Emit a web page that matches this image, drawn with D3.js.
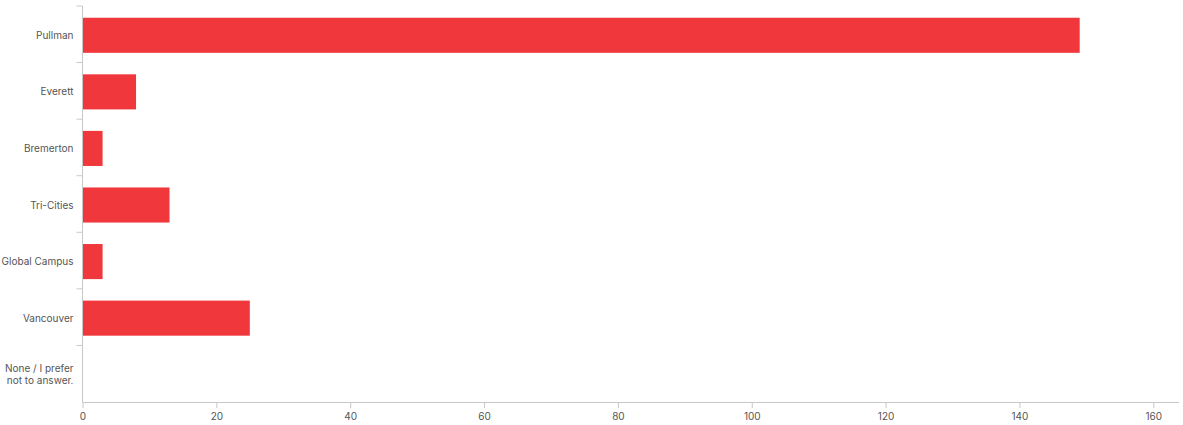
<!DOCTYPE html>
<html>
<head>
<meta charset="utf-8">
<script src="https://cdn.jsdelivr.net/npm/d3@7"></script>
<style>
  body { margin: 0; background: #fff; }
  text { font-family: Inter, "Open Sans", sans-serif; fill: #555; }
</style>
</head>
<body>
<svg id="chart"></svg>
<script>
var categories = ["Pullman", "Everett", "Bremerton", "Tri-Cities", "Global Campus", "Vancouver", "None / I prefer not to answer."];
var counts = [149, 8, 3, 13, 3, 25, 0];
var xTicks = [0, 20, 40, 60, 80, 100, 120, 140, 160];

var width = 1183, height = 425;
var margin = { top: 6, right: 4, bottom: 23, left: 82.5 };

var svg = d3.select('svg#chart')
  .attr('width', width)
  .attr('height', height);

var x = d3.scaleLinear()
  .domain([0, 160])
  .range([margin.left, 1153.3]);

// bars sit about a pixel lower than the band boundaries in the original
var y = d3.scaleBand()
  .domain(categories)
  .range([margin.top + 1, height - margin.bottom + 1])
  .paddingInner(0.38)
  .paddingOuter(0.19);

var axisColor = '#c8c8c8';

// bars
svg.selectAll('rect.bar')
  .data(counts)
  .enter()
  .append('rect')
  .attr('class', 'bar')
  .attr('x', x(0) + 0.5)
  .attr('y', function(d, i) { return y(categories[i]); })
  .attr('width', function(d) { return Math.max(0, x(d) - x(0) - 0.5); })
  .attr('height', y.bandwidth())
  .attr('fill', '#ef373c');

// y axis line + ticks at band boundaries
var step = y.step();
var bounds = d3.range(categories.length).map(function(i) { return margin.top + i * step; });

svg.append('line')
  .attr('x1', x(0)).attr('x2', x(0))
  .attr('y1', margin.top).attr('y2', height - margin.bottom)
  .attr('stroke', axisColor);

svg.selectAll('line.ytick')
  .data(bounds)
  .enter()
  .append('line')
  .attr('class', 'ytick')
  .attr('x1', x(0) - 6).attr('x2', x(0))
  .attr('y1', function(d) { return d; })
  .attr('y2', function(d) { return d; })
  .attr('stroke', axisColor);

// y labels (wrap long one)
var labelLines = function(c) {
  return c.length > 15 ? ["None / I prefer", "not to answer."] : [c];
};

svg.selectAll('text.ylabel')
  .data(categories)
  .enter()
  .append('text')
  .attr('class', 'ylabel')
  .attr('text-anchor', 'end')
  .attr('font-size', 10)
  .attr('x', x(0) - 9)
  .attr('y', function(d) { return y(d) + y.bandwidth() / 2; })
  .each(function(d) {
    var lines = labelLines(d);
    var t = d3.select(this);
    lines.forEach(function(l, j) {
      t.append('tspan')
        .attr('x', x(0) - 9)
        .attr('dy', j === 0 ? (0.35 - (lines.length - 1) * 0.6) + 'em' : '1.2em')
        .text(l);
    });
  });

// x axis
var xAxis = svg.append('g')
  .attr('transform', 'translate(0,' + (height - margin.bottom) + ')')
  .call(d3.axisBottom(x).tickValues(xTicks).tickSize(6).tickPadding(5));

xAxis.select('.domain')
  .attr('stroke', axisColor)
  .attr('d', 'M' + x(0) + ',0.5H1179');
xAxis.selectAll('.tick line').attr('stroke', axisColor);
xAxis.selectAll('.tick text')
  .attr('font-family', 'Inter, "Open Sans", sans-serif')
  .attr('font-size', 10)
  .attr('fill', '#555');
</script>
</body>
</html>
